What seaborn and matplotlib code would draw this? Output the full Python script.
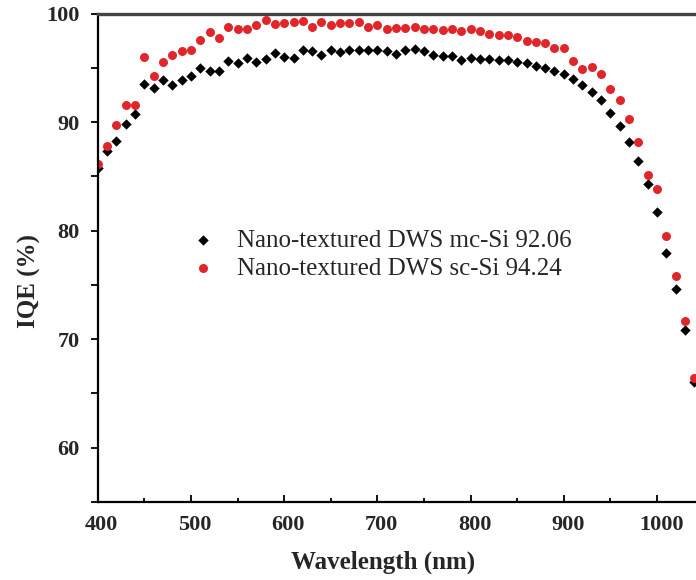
import matplotlib
matplotlib.use("Agg")
import matplotlib.pyplot as plt
import matplotlib.transforms as mtransforms
from matplotlib.ticker import MultipleLocator
import pandas as pd
import seaborn as sns

# data
wavelength = [400, 410, 420, 430, 440, 450, 460, 470, 480, 490,
              500, 510, 520, 530, 540, 550, 560, 570, 580, 590,
              600, 610, 620, 630, 640, 650, 660, 670, 680, 690,
              700, 710, 720, 730, 740, 750, 760, 770, 780, 790,
              800, 810, 820, 830, 840, 850, 860, 870, 880, 890,
              900, 910, 920, 930, 940, 950, 960, 970, 980, 990,
              1000, 1010, 1020, 1030, 1040, 1050]

iqe_mc = [85.8, 87.3, 88.3, 89.8, 90.7, 93.5, 93.1, 93.9, 93.4, 93.9,
          94.25, 95.0, 94.7, 94.7, 95.6, 95.4, 95.9, 95.5, 95.8, 96.35,
          96.0, 95.9, 96.6, 96.55, 96.15, 96.6, 96.45, 96.6, 96.6, 96.6,
          96.6, 96.5, 96.3, 96.6, 96.7, 96.55, 96.15, 96.1, 96.1, 95.7,
          95.9, 95.85, 95.8, 95.7, 95.7, 95.5, 95.4, 95.2, 95.0, 94.7,
          94.4, 94.0, 93.4, 92.8, 92.0, 90.85, 89.6, 88.2, 86.4, 84.3,
          81.7, 77.9, 74.6, 70.85, 66.1, 59.5]

iqe_sc = [86.1, 87.8, 89.7, 91.6, 91.6, 96.0, 94.2, 95.5, 96.15, 96.5,
          96.65, 97.6, 98.3, 97.75, 98.8, 98.6, 98.6, 98.9, 99.4, 99.0,
          99.15, 99.2, 99.3, 98.8, 99.2, 98.9, 99.1, 99.1, 99.2, 98.8,
          98.9, 98.6, 98.7, 98.7, 98.75, 98.6, 98.6, 98.45, 98.6, 98.35,
          98.55, 98.4, 98.1, 98.05, 98.0, 97.85, 97.5, 97.4, 97.3, 96.8,
          96.8, 95.6, 94.85, 95.05, 94.4, 93.0, 92.0, 90.3, 88.15, 85.1,
          83.8, 79.5, 75.8, 71.65, 66.45, 60.5]

x_ticks = [400, 500, 600, 700, 800, 900, 1000]

label_mc = "Nano-textured DWS mc-Si 92.06"
label_sc = "Nano-textured DWS sc-Si 94.24"

df_mc = pd.DataFrame({"wl": wavelength, "iqe": iqe_mc})
df_sc = pd.DataFrame({"wl": wavelength, "iqe": iqe_sc})

sns.set_style("ticks")
plt.rcParams["font.family"] = ["Liberation Serif", "DejaVu Serif"]

fig = plt.figure(figsize=(6.96, 5.80), dpi=100)
# axes runs past the right edge, like the cropped original
ax = fig.add_axes([97.8 / 696, 78 / 580, 652.4 / 696, 488.5 / 580])

sns.scatterplot(data=df_mc, x="wl", y="iqe", ax=ax, marker="D", s=28,
                color="black", linewidth=0, label=label_mc)
sns.scatterplot(data=df_sc, x="wl", y="iqe", ax=ax, marker="o", s=42,
                color="#e0262b", linewidth=0, label=label_sc)

ax.set_xlim(400, 1100)
ax.set_ylim(55, 100)
ax.set_xticks(x_ticks)
ax.xaxis.set_minor_locator(MultipleLocator(50))
ax.yaxis.set_major_locator(MultipleLocator(10))
ax.yaxis.set_minor_locator(MultipleLocator(5))

ax.tick_params(axis="x", which="both", direction="in", width=1.3, color="black")
ax.tick_params(axis="x", which="major", length=5, pad=9)
ax.tick_params(axis="x", which="minor", length=3)
ax.tick_params(axis="y", which="both", direction="out", width=1.3, color="black")
ax.tick_params(axis="y", which="major", length=5, pad=8)
ax.tick_params(axis="y", which="minor", length=5)

for lab in ax.get_xticklabels() + ax.get_yticklabels():
    lab.set_fontsize(16)
    lab.set_fontweight("bold")
offset = mtransforms.ScaledTranslation(4 / 100, 0, fig.dpi_scale_trans)
for lab in ax.get_xticklabels():
    lab.set_transform(lab.get_transform() + offset)

for side in ["left", "bottom"]:
    ax.spines[side].set_linewidth(1.6)
    ax.spines[side].set_color("black")
ax.spines["top"].set_linewidth(2.4)
ax.spines["top"].set_color("#444444")
ax.spines["right"].set_visible(False)

ax.set_xlabel("Wavelength (nm)", fontsize=18, fontweight="bold")
ax.set_ylabel("IQE (%)", fontsize=18, fontweight="bold")
ax.xaxis.set_label_coords(383 / 696, 1 - 551 / 580, transform=fig.transFigure)
ax.yaxis.set_label_coords(41 / 696, 1 - 281 / 580, transform=fig.transFigure)

ax.legend(loc="upper left", bbox_to_anchor=(190.5 / 696, 1 - 229 / 580),
          bbox_transform=fig.transFigure, frameon=False, fontsize=18,
          handlelength=1.0, handletextpad=0.85, labelspacing=0.22,
          borderpad=0, borderaxespad=0, markerscale=1.0)

fig.savefig("out.png", dpi=100)
